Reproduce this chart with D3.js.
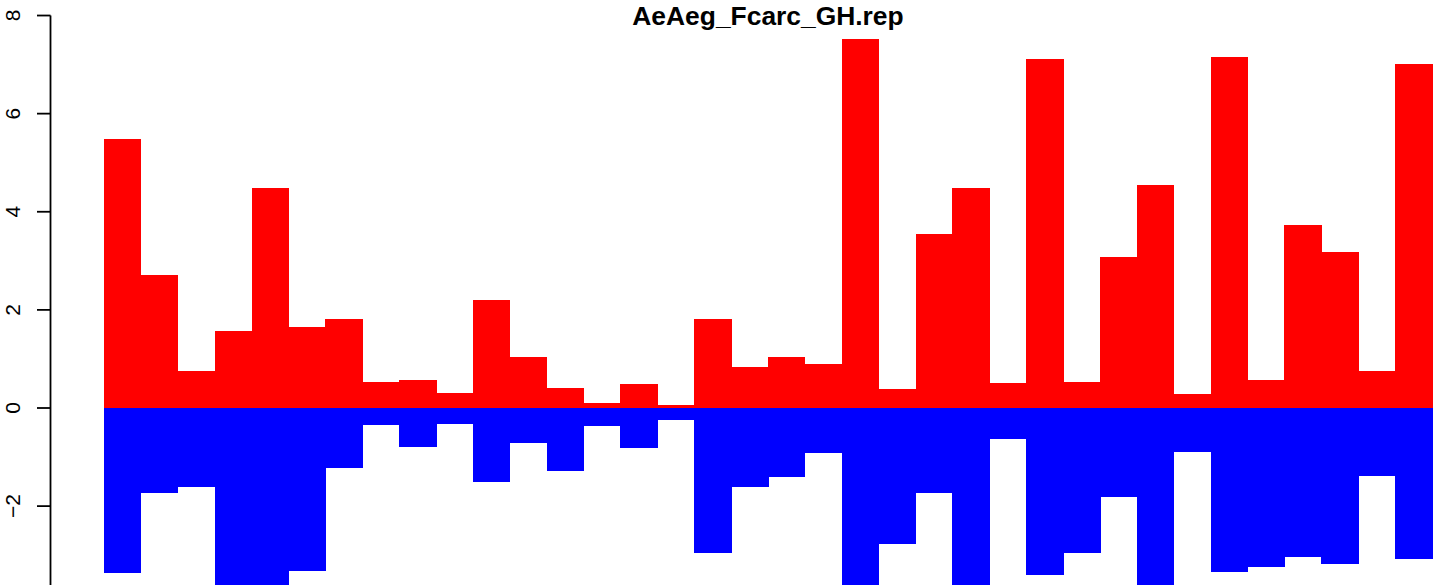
<!DOCTYPE html>
<html>
<head>
<meta charset="utf-8">
<script src="https://cdn.jsdelivr.net/npm/d3@7"></script>
<style>
  html, body { margin: 0; padding: 0; background: #fff; overflow: hidden; }
  svg { display: block; }
</style>
</head>
<body>
<script>
const title = "AeAeg_Fcarc_GH.rep";
const categories = d3.range(1, 37).map(String);
const upValues = [5.48, 2.72, 0.75, 1.57, 4.49, 1.66, 1.81, 0.54, 0.58, 0.30,
                  2.21, 1.03, 0.40, 0.10, 0.48, 0.055, 1.81, 0.83, 1.03, 0.89,
                  7.52, 0.38, 3.54, 4.49, 0.50, 7.12, 0.54, 3.07, 4.54, 0.28,
                  7.16, 0.58, 3.74, 3.17, 0.75, 7.02];
const downValues = [-3.37, -1.74, -1.62, -4.1, -4.3, -3.33, -1.23, -0.35, -0.80, -0.33,
                    -1.51, -0.72, -1.29, -0.37, -0.82, -0.25, -2.96, -1.62, -1.41, -0.92,
                    -4.2, -2.78, -1.74, -3.9, -0.64, -3.41, -2.96, -1.82, -4.0, -0.90,
                    -3.35, -3.24, -3.04, -3.18, -1.39, -3.08];
const yTicks = [-2, 0, 2, 4, 6, 8];

const W = 1444, H = 585;
const svg = d3.select("body").append("svg").attr("width", W).attr("height", H);

const x = d3.scaleBand().domain(categories).range([104, 1432]).padding(0);
const y = d3.scaleLinear().domain([-4, 8]).range([408 + 4 * 49.06, 408 - 8 * 49.06]);

svg.append("g").attr("shape-rendering", "crispEdges")
  .selectAll("rect").data(upValues).join("rect")
  .attr("x", (d, i) => x(categories[i]))
  .attr("width", x.bandwidth() + 0.6)
  .attr("y", d => y(d))
  .attr("height", d => y(0) - y(d))
  .attr("fill", "#ff0000");

svg.append("g").attr("shape-rendering", "crispEdges")
  .selectAll("rect").data(downValues).join("rect")
  .attr("x", (d, i) => x(categories[i]))
  .attr("width", x.bandwidth() + 0.6)
  .attr("y", y(0))
  .attr("height", d => y(d) - y(0))
  .attr("fill", "#0000ff");

// Y axis (R style)
const ax = svg.append("g").attr("transform", "translate(50.5,0)");
ax.append("line").attr("x1", 0).attr("x2", 0)
  .attr("y1", y(8)).attr("y2", y(-4))
  .attr("stroke", "#000").attr("stroke-width", 1.8);
ax.selectAll("line.tick").data(yTicks).join("line")
  .attr("class", "tick")
  .attr("x1", -13.5).attr("x2", 0)
  .attr("y1", d => y(d)).attr("y2", d => y(d))
  .attr("stroke", "#000").attr("stroke-width", 1.8);
ax.selectAll("text").data(yTicks).join("text")
  .attr("transform", d => `translate(-30.5,${y(d)}) rotate(-90)`)
  .attr("text-anchor", "middle")
  .attr("font-family", "Liberation Sans, Arial, sans-serif")
  .attr("font-size", 21)
  .attr("fill", "#000")
  .text(d => d < 0 ? "\u2212" + Math.abs(d) : d);

svg.append("text")
  .attr("x", 768).attr("y", 25)
  .attr("text-anchor", "middle")
  .attr("font-family", "Liberation Sans, Arial, sans-serif")
  .attr("font-weight", "bold")
  .attr("font-size", 26.4)
  .attr("fill", "#000")
  .text(title);
</script>
</body>
</html>
